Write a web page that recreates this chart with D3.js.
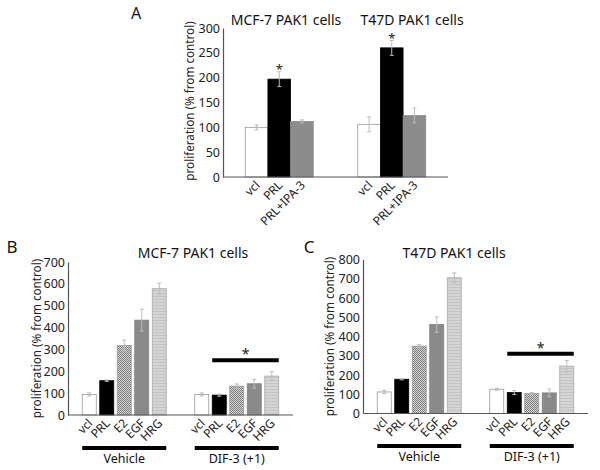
<!DOCTYPE html>
<html>
<head>
<meta charset="utf-8">
<script src="https://cdn.jsdelivr.net/npm/d3@7"></script>
<style>
  html, body { margin: 0; padding: 0; background: #ffffff; }
  svg { display: block; }
</style>
</head>
<body>
<script>
// ---------------- DATA ----------------
const panelAGroups = ["MCF-7 PAK1 cells", "T47D PAK1 cells"];
const panelACategories = ["vcl", "PRL", "PRL+IPA-3"];
const panelAMeans = [[100, 197, 112], [106, 260, 124]];
const panelAErrors = [[5, 15, 3], [15, 15, 15]];
const panelASignificant = [[false, true, false], [false, true, false]];
const panelATicks = [0, 50, 100, 150, 200, 250, 300];

const treatmentGroups = ["Vehicle", "DIF-3 (+1)"];
const factorCategories = ["vcl", "PRL", "E2", "EGF", "HRG"];

const panelBTitle = "MCF-7 PAK1 cells";
const panelBMeans = [[94, 157, 318, 434, 578], [94, 91, 132, 143, 178]];
const panelBErrors = [[7, 3, 25, 50, 25], [7, 5, 10, 20, 20]];
const panelBTicks = [0, 100, 200, 300, 400, 500, 600, 700];
const panelBSigLevel = 250;

const panelCTitle = "T47D PAK1 cells";
const panelCMeans = [[112, 178, 350, 462, 705], [126, 109, 104, 107, 246]];
const panelCErrors = [[8, 3, 8, 40, 25], [5, 10, 5, 20, 30]];
const panelCTicks = [0, 100, 200, 300, 400, 500, 600, 700, 800];
const panelCSigLevel = 310;

const yLabel = "proliferation (% from control)";

// ---------------- SETUP ----------------
const FONT = "'Noto Sans', sans-serif";
const svg = d3.select("body").append("svg")
  .attr("width", 600).attr("height", 470)
  .style("font-family", FONT);

const defs = svg.append("defs");
// checker pattern (E2)
const chk = defs.append("pattern").attr("id", "checker")
  .attr("width", 2).attr("height", 2).attr("patternUnits", "userSpaceOnUse");
chk.append("rect").attr("width", 2).attr("height", 2).attr("fill", "#d8d8d8");
chk.append("rect").attr("width", 1).attr("height", 1).attr("fill", "#7a7a7a");
chk.append("rect").attr("x", 1).attr("y", 1).attr("width", 1).attr("height", 1).attr("fill", "#7a7a7a");
// fine pattern (EGF)
const fine = defs.append("pattern").attr("id", "fine")
  .attr("width", 2).attr("height", 2).attr("patternUnits", "userSpaceOnUse");
fine.append("rect").attr("width", 2).attr("height", 2).attr("fill", "#8c8c8c");
fine.append("rect").attr("width", 1).attr("height", 1).attr("fill", "#848484");
// horizontal lines (HRG)
const hl = defs.append("pattern").attr("id", "hlines")
  .attr("width", 3).attr("height", 3).attr("patternUnits", "userSpaceOnUse");
hl.append("rect").attr("width", 3).attr("height", 3).attr("fill", "#d4d4d4");
hl.append("rect").attr("y", 2).attr("width", 3).attr("height", 1).attr("fill", "#c4c4c4");

const factorFill = { vcl: "#ffffff", PRL: "#000000", E2: "url(#checker)", EGF: "url(#fine)", HRG: "url(#hlines)", "PRL+IPA-3": "#8c8c8c" };
const factorStroke = { vcl: "#9a9a9a", PRL: "#000000", E2: "#9a9a9a", EGF: "#808080", HRG: "#a8a8a8", "PRL+IPA-3": "#8c8c8c" };

function drawYAxis(y, ticks, x) {
  const g = svg.append("g").attr("transform", `translate(${x},0)`)
    .call(d3.axisLeft(y).tickValues(ticks).tickSize(0).tickSizeOuter(0).tickPadding(3));
  g.select(".domain").attr("stroke", "#555").attr("stroke-width", 1.2);
  g.selectAll("text").attr("font-size", 12.5).attr("font-family", FONT).attr("fill", "#222");
  return g;
}

function drawBars(gx, xb, y, groups, cats, means, errs) {
  groups.forEach((grp, gi) => {
    const cx0 = gx(grp);
    cats.forEach((c, ci) => {
      const x0 = cx0 + xb(c);
      const w = xb.bandwidth();
      const v = means[gi][ci], e = errs[gi][ci];
      svg.append("rect")
        .attr("x", x0).attr("y", y(v))
        .attr("width", w).attr("height", y(0) - y(v))
        .attr("fill", factorFill[c]).attr("stroke", factorStroke[c]).attr("stroke-width", 0.8);
      const cx = x0 + w / 2;
      svg.append("line").attr("x1", cx).attr("x2", cx).attr("y1", y(v + e)).attr("y2", y(v - e))
        .attr("stroke", "#bcbcbc").attr("stroke-width", 1);
      [v + e, v - e].forEach(val => {
        svg.append("line").attr("x1", cx - 2).attr("x2", cx + 2).attr("y1", y(val)).attr("y2", y(val))
          .attr("stroke", "#bcbcbc").attr("stroke-width", 1);
      });
      svg.append("text")
        .attr("transform", `translate(${cx + 4},${y(0) + 9}) rotate(-45)`)
        .attr("text-anchor", "end").attr("font-size", 12).attr("fill", "#222")
        .text(c);
    });
  });
}

function yTitle(x, yc) {
  svg.append("text").attr("transform", `translate(${x},${yc}) rotate(-90)`)
    .attr("text-anchor", "middle").attr("font-size", 11.7).attr("fill", "#222").text(yLabel);
}

// ---------------- PANEL A ----------------
const yA = d3.scaleLinear().domain([0, 300]).range([177, 28]);
const gxA = d3.scalePoint().domain(panelAGroups).range([223, 448]).padding(0.5);
const xbA = d3.scaleBand().domain(panelACategories).range([-34, 34]).padding(0);
drawBars(gxA, xbA, yA, panelAGroups, panelACategories, panelAMeans, panelAErrors);
drawYAxis(yA, panelATicks, 223);
svg.append("line").attr("x1", 223).attr("x2", 448).attr("y1", yA(0)).attr("y2", yA(0))
  .attr("stroke", "#555").attr("stroke-width", 1.2);
panelAGroups.forEach((g, gi) => {
  panelACategories.forEach((c, ci) => {
    if (panelASignificant[gi][ci]) {
      svg.append("text").attr("x", gxA(g) + xbA(c) + xbA.bandwidth() / 2)
        .attr("y", yA(panelAMeans[gi][ci] + panelAErrors[gi][ci]) + 2.5)
        .attr("text-anchor", "middle").attr("font-size", 13).attr("fill", "#222").text("*");
    }
  });
});
svg.append("text").attr("x", 286).attr("y", 25).attr("text-anchor", "middle")
  .attr("font-size", 14).attr("fill", "#111").text(panelAGroups[0]);
svg.append("text").attr("x", 412).attr("y", 25).attr("text-anchor", "middle")
  .attr("font-size", 14).attr("fill", "#111").text(panelAGroups[1]);
svg.append("text").attr("x", 136).attr("y", 19).attr("text-anchor", "middle")
  .attr("font-size", 16).attr("fill", "#111").text("A");
yTitle(194, 101);

// ---------------- PANELS B, C ----------------
function drawFactorPanel(opts) {
  const y = d3.scaleLinear().domain([0, opts.max]).range([opts.base, opts.top]);
  const gx = d3.scalePoint().domain(treatmentGroups).range([opts.left, opts.right]).padding(0.5);
  const xb = d3.scaleBand().domain(factorCategories).range([-43.75, 43.75]).paddingInner(0.2).paddingOuter(0.1);
  drawBars(gx, xb, y, treatmentGroups, factorCategories, opts.means, opts.errs);
  drawYAxis(y, opts.ticks, opts.left);
  svg.append("line").attr("x1", opts.left).attr("x2", opts.right).attr("y1", y(0)).attr("y2", y(0))
    .attr("stroke", "#555").attr("stroke-width", 1.2);
  // significance line over DIF-3 group (PRL..HRG)
  const g2 = treatmentGroups[1];
  const sx1 = gx(g2) + xb("PRL"), sx2 = gx(g2) + xb("HRG") + xb.bandwidth();
  svg.append("line").attr("x1", sx1).attr("x2", sx2).attr("y1", y(opts.sig)).attr("y2", y(opts.sig))
    .attr("stroke", "#000").attr("stroke-width", 4);
  svg.append("text").attr("x", (sx1 + sx2) / 2).attr("y", y(opts.sig) - 1)
    .attr("text-anchor", "middle").attr("font-size", 14).attr("fill", "#222").text("*");
  // group brackets
  treatmentGroups.forEach(g => {
    const bx1 = gx(g) + xb("vcl"), bx2 = gx(g) + xb("HRG") + xb.bandwidth();
    svg.append("line").attr("x1", bx1).attr("x2", bx2).attr("y1", opts.bracketY).attr("y2", opts.bracketY)
      .attr("stroke", "#000").attr("stroke-width", 4);
    svg.append("text").attr("x", (bx1 + bx2) / 2).attr("y", opts.bracketY + 15)
      .attr("text-anchor", "middle").attr("font-size", 12.5).attr("fill", "#111").text(g);
  });
  svg.append("text").attr("x", opts.titleX).attr("y", 258).attr("text-anchor", "middle")
    .attr("font-size", 14).attr("fill", "#111").text(opts.title);
  svg.append("text").attr("x", opts.letterX).attr("y", 253).attr("text-anchor", "middle")
    .attr("font-size", 17).attr("fill", "#111").text(opts.letter);
  yTitle(opts.labelX, (opts.base + opts.top) / 2);
}

drawFactorPanel({
  max: 700, base: 415, top: 262, left: 68, right: 293, ticks: panelBTicks,
  means: panelBMeans, errs: panelBErrors, sig: panelBSigLevel, bracketY: 448,
  title: panelBTitle, titleX: 193, letter: "B", letterX: 12, labelX: 41
});
drawFactorPanel({
  max: 800, base: 413.5, top: 259.5, left: 363, right: 588, ticks: panelCTicks,
  means: panelCMeans, errs: panelCErrors, sig: panelCSigLevel, bracketY: 446,
  title: panelCTitle, titleX: 454, letter: "C", letterX: 309, labelX: 334
});
</script>
</body>
</html>
